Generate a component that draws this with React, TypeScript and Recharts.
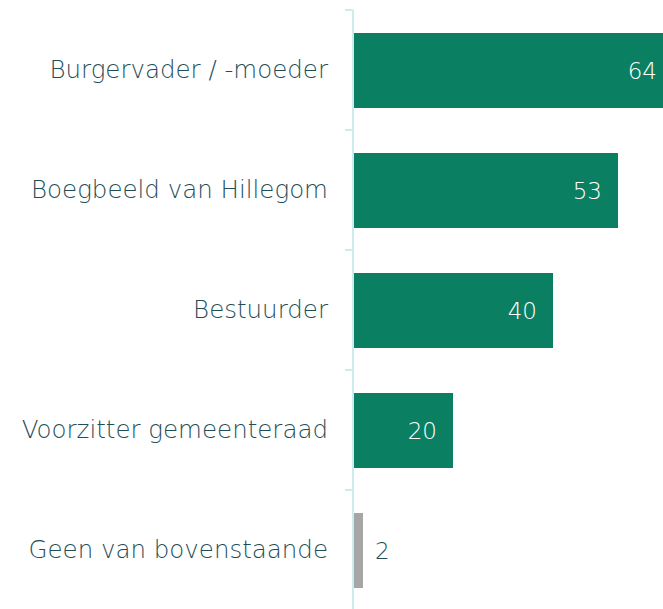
import { Bar, BarChart, Cell, LabelList, XAxis, YAxis } from 'recharts'

const categories = [
  'Burgervader / -moeder',
  'Boegbeeld van Hillegom',
  'Bestuurder',
  'Voorzitter gemeenteraad',
  'Geen van bovenstaande',
]
const values = [64, 53, 40, 20, 2]
const barColors = ['#0b7f62', '#0b7f62', '#0b7f62', '#0b7f62', '#a6a6a6']

const data = categories.map((name, i) => ({ name, value: values[i] }))

const FONT = '"DejaVu Sans", sans-serif'
const TEXT = '#1f4e57'
const AXIS = '#cdecef'

function CategoryTick(props: any) {
  const { x, y, payload } = props
  return (
    <g>
      <line x1={x + 17} x2={x + 25} y1={y - 60} y2={y - 60} stroke={AXIS} strokeWidth={2} />
      <text
        x={x}
        y={y}
        dy={8}
        textAnchor="end"
        fill={TEXT}
        fontFamily={FONT}
        fontWeight={200}
        fontSize={24.5}
      >
        {payload.value}
      </text>
    </g>
  )
}

function ValueLabel(props: any) {
  const { x, y, width, height, value } = props
  const inside = value > 5
  return (
    <text
      x={inside ? x + width - 16 : x + width + 12}
      y={y + height / 2}
      dy={8}
      textAnchor={inside ? 'end' : 'start'}
      fill={inside ? '#ffffff' : TEXT}
      fontFamily={FONT}
      fontWeight={200}
      fontSize={23}
    >
      {value}
    </text>
  )
}

export default function App() {
  return (
    <div
      style={{
        position: 'absolute',
        left: 0,
        top: 0,
        width: 663,
        height: 609,
        overflow: 'hidden',
        background: '#fff',
      }}
    >
      <BarChart
        width={673}
        height={610}
        data={data}
        layout="vertical"
        margin={{ top: 10, right: 0, bottom: 0, left: 0 }}
      >
        <XAxis type="number" hide domain={[0, 'dataMax']} />
        <YAxis
          type="category"
          dataKey="name"
          width={353}
          tickSize={8}
          tickMargin={17}
          tickLine={false}
          axisLine={{ stroke: AXIS, strokeWidth: 2 }}
          tick={<CategoryTick />}
          interval={0}
        />
        <Bar dataKey="value" barSize={75} isAnimationActive={false}>
          {data.map((d, i) => (
            <Cell key={d.name} fill={barColors[i]} />
          ))}
          <LabelList dataKey="value" content={<ValueLabel />} />
        </Bar>
      </BarChart>
    </div>
  )
}
